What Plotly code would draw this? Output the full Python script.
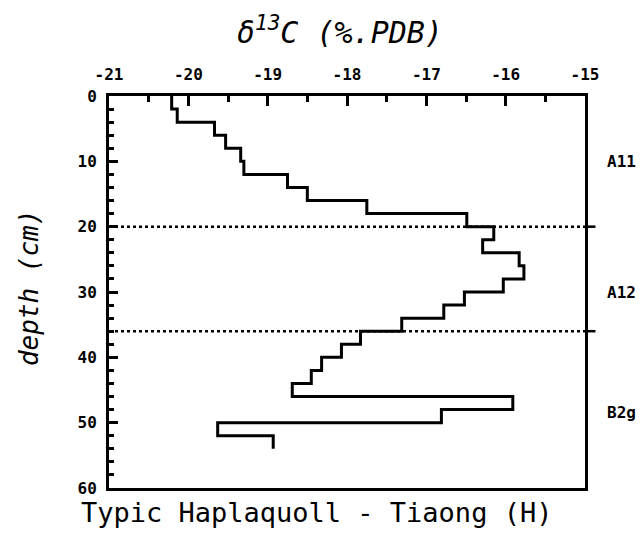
import plotly.graph_objects as go

# depth at the top of each 2 cm sample (cm) and its delta 13C value
depth_top = [0, 2, 4, 6, 8, 10, 12, 14, 16, 18, 20, 22, 24, 26,
             28, 30, 32, 34, 36, 38, 40, 42, 44, 46, 48, 50, 52]
depth_bottom = 54
d13c = [-20.21, -20.14, -19.67, -19.53, -19.34, -19.30, -18.75, -18.50,
        -17.75, -16.49, -16.15, -16.29, -15.83, -15.77, -16.03, -16.52,
        -16.78, -17.31, -17.83, -18.07, -18.32, -18.45, -18.69, -15.91,
        -16.81, -19.63, -18.93]

# horizon boundaries (dotted lines) and horizon labels
boundaries = [20, 36]
horizons = ["A11", "A12", "B2g"]
horizon_depth = [10, 30, 48.5]

x_ticks = [-21, -20, -19, -18, -17, -16, -15]
x_ticktext = ["-21", "-20", "-19", "-18", "-17", "-16", "-15"]
y_ticks = [0, 10, 20, 30, 40, 50, 60]

mono = "DejaVu Sans Mono"

fig = go.Figure()

# step profile: down first, then across at each sample boundary
fig.add_trace(go.Scatter(
    x=d13c + [d13c[-1]],
    y=depth_top + [depth_bottom],
    mode="lines",
    line=dict(color="black", width=3, shape="vh"),
    showlegend=False,
    hoverinfo="skip",
))

for b in boundaries:
    fig.add_shape(type="line", xref="paper", yref="y", x0=0, x1=1, y0=b, y1=b,
                  line=dict(color="black", width=2.5, dash="dot"))
    fig.add_shape(type="line", xref="paper", yref="y", x0=1, x1=1.022, y0=b, y1=b,
                  line=dict(color="black", width=2.5))

for name, d in zip(horizons, horizon_depth):
    fig.add_annotation(text=name, xref="paper", yref="y", x=1.042, y=d,
                       xanchor="left", yanchor="middle", showarrow=False,
                       font=dict(family=mono, size=16, color="black", weight="bold"))

fig.add_annotation(text="<i>δ<sup>13</sup>C (%.PDB)</i>", xref="paper", yref="paper",
                   x=0.485, y=1.168, xanchor="center", yanchor="middle", showarrow=False,
                   font=dict(family=mono, size=30, color="black"))
fig.add_annotation(text="Typic Haplaquoll - Tiaong (H)", xref="paper", yref="paper",
                   x=0.435, y=-0.063, xanchor="center", yanchor="middle", showarrow=False,
                   font=dict(family=mono, size=27, color="black"))
fig.add_annotation(text="<i>depth (cm)</i>", xref="paper", yref="paper",
                   x=-0.168, y=0.51, xanchor="center", yanchor="middle", showarrow=False,
                   textangle=-90, font=dict(family=mono, size=26, color="black"))

fig.update_xaxes(
    side="top", range=[-21, -15], tickvals=x_ticks, ticktext=x_ticktext,
    ticks="inside", ticklen=10, tickwidth=3, tickcolor="black",
    minor=dict(dtick=0.5, ticks="inside", ticklen=6, tickwidth=3, tickcolor="black"),
    showline=True, linewidth=3, linecolor="black", mirror=True,
    showgrid=False, zeroline=False, ticklabelstandoff=7,
    tickfont=dict(family=mono, size=16, color="black", weight="bold"),
)
fig.update_yaxes(
    range=[60, 0], tickvals=y_ticks,
    ticks="inside", ticklen=9, tickwidth=3, tickcolor="black",
    minor=dict(dtick=2, ticks="inside", ticklen=5, tickwidth=3, tickcolor="black"),
    showline=True, linewidth=3, linecolor="black", mirror=True,
    showgrid=False, zeroline=False, ticklabelstandoff=6,
    tickfont=dict(family=mono, size=16, color="black", weight="bold"),
)

# margins allow for the 8px page margin around the plot div
fig.update_layout(
    width=644, height=535,
    margin=dict(l=101, r=67, t=88, b=55),
    plot_bgcolor="white", paper_bgcolor="white",
)

fig.write_html("out.html")
